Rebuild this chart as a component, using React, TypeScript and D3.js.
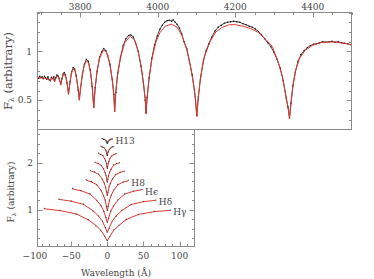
import * as d3 from 'd3';

// top panel: full spectrum, wavelength (A) / flux
const topTicksX = [3800, 4000, 4200, 4400];
const topTicksY = [0.5, 1];

const modelSpec: [number, number][] = [
  [3690, 0.73], [3700, 0.73], [3710, 0.725], [3718, 0.72], [3722, 0.7], [3726, 0.72],
  [3730, 0.73], [3734, 0.69], [3740, 0.75], [3745, 0.74], [3750, 0.655], [3753, 0.72],
  [3758, 0.775], [3763, 0.74], [3767, 0.66], [3770, 0.56], [3773, 0.66], [3777, 0.77],
  [3782, 0.825], [3787, 0.8], [3792, 0.7], [3796, 0.58], [3798, 0.5], [3800, 0.59],
  [3805, 0.74], [3810, 0.85], [3816, 0.905], [3822, 0.88], [3828, 0.76], [3832, 0.6],
  [3835, 0.42], [3838, 0.6], [3843, 0.78], [3850, 0.93], [3860, 1.015], [3868, 0.995],
  [3876, 0.88], [3883, 0.7], [3887, 0.55], [3889, 0.38], [3891, 0.55], [3896, 0.75],
  [3905, 0.95], [3915, 1.09], [3929, 1.155], [3940, 1.12], [3950, 1.0], [3958, 0.83],
  [3964, 0.66], [3968, 0.5], [3970, 0.36], [3972, 0.5], [3977, 0.7], [3985, 0.92],
  [3995, 1.09], [4005, 1.19], [4020, 1.26], [4035, 1.28], [4050, 1.25], [4063, 1.16],
  [4075, 1.02], [4085, 0.84], [4093, 0.65], [4098, 0.5], [4101, 0.335], [4104, 0.5],
  [4110, 0.72], [4120, 0.94], [4135, 1.1], [4150, 1.2], [4165, 1.245], [4185, 1.275],
  [4200, 1.275], [4220, 1.26], [4240, 1.235], [4260, 1.195], [4280, 1.12], [4296, 1.05],
  [4310, 0.9], [4322, 0.74], [4332, 0.51], [4337, 0.42], [4340, 0.31], [4343, 0.44],
  [4349, 0.66], [4357, 0.82], [4366, 0.93], [4380, 1.01], [4400, 1.065], [4420, 1.09],
  [4440, 1.097], [4460, 1.096], [4480, 1.085], [4500, 1.07],
];

const obsSpec: [number, number][] = [
  [3690, 0.74], [3693, 0.725], [3696, 0.745], [3699, 0.73], [3702, 0.74], [3705, 0.72],
  [3708, 0.745], [3711, 0.73], [3714, 0.715], [3717, 0.74], [3720, 0.71], [3723, 0.7],
  [3726, 0.735], [3729, 0.72], [3732, 0.74], [3734, 0.7], [3737, 0.73], [3740, 0.76],
  [3743, 0.75], [3746, 0.72], [3750, 0.67], [3753, 0.72], [3756, 0.77], [3759, 0.785],
  [3762, 0.76], [3766, 0.68], [3770, 0.57], [3774, 0.69], [3778, 0.79], [3782, 0.835],
  [3786, 0.82], [3790, 0.75], [3795, 0.6], [3798, 0.51], [3801, 0.62], [3806, 0.77],
  [3811, 0.87], [3816, 0.92], [3821, 0.9], [3826, 0.81], [3831, 0.64], [3835, 0.43],
  [3839, 0.63], [3844, 0.8], [3850, 0.94], [3856, 1.0], [3861, 1.03], [3866, 1.01],
  [3871, 0.96], [3877, 0.87], [3883, 0.71], [3887, 0.56], [3889, 0.39], [3892, 0.58],
  [3897, 0.78], [3904, 0.94], [3911, 1.06], [3918, 1.13], [3925, 1.165], [3931, 1.17],
  [3937, 1.15], [3943, 1.09], [3950, 1.0], [3957, 0.85], [3963, 0.68], [3968, 0.5],
  [3970, 0.37], [3973, 0.53], [3978, 0.73], [3985, 0.93], [3992, 1.07], [3999, 1.16],
  [4006, 1.23], [4012, 1.27], [4018, 1.3], [4024, 1.315], [4030, 1.32], [4036, 1.31],
  [4040, 1.325], [4045, 1.3], [4050, 1.28], [4056, 1.24], [4062, 1.18], [4068, 1.1],
  [4075, 1.03], [4082, 0.9], [4089, 0.76], [4095, 0.6], [4101, 0.34], [4105, 0.54],
  [4111, 0.74], [4118, 0.91], [4125, 1.01], [4132, 1.08], [4140, 1.15], [4148, 1.21],
  [4156, 1.25], [4164, 1.27], [4172, 1.29], [4180, 1.3], [4188, 1.305], [4196, 1.31],
  [4204, 1.305], [4212, 1.3], [4220, 1.285], [4228, 1.275], [4236, 1.26], [4244, 1.25],
  [4252, 1.23], [4260, 1.205], [4268, 1.17], [4276, 1.13], [4284, 1.09], [4292, 1.05],
  [4300, 0.99], [4308, 0.92], [4316, 0.83], [4324, 0.7], [4332, 0.52], [4336, 0.43],
  [4340, 0.32], [4344, 0.47], [4349, 0.65], [4355, 0.79], [4362, 0.9], [4370, 0.97],
  [4378, 1.01], [4386, 1.04], [4394, 1.06], [4402, 1.075], [4410, 1.08], [4418, 1.09],
  [4426, 1.1], [4434, 1.095], [4442, 1.1], [4450, 1.105], [4458, 1.095], [4466, 1.1],
  [4474, 1.09], [4482, 1.085], [4490, 1.08], [4498, 1.07],
];

// bottom panel: individual line profiles, offset
const botTicksX = [-100, -50, 0, 50, 100];
const botTicksY = [1, 2];
const lineNames = ['Hγ', 'Hδ', 'Hϵ', 'H8', 'H9', 'H10', 'H11', 'H12', 'H13'];
const lineLabelled = [true, true, true, true, false, false, false, false, true];

const profileWave = [
  [-87, -65, -43, -26, -16, -9, -3.5, 0, 3.5, 9, 16, 26, 43, 65, 87],
  [-67, -50, -33, -20, -12, -6.7, -2.7, 0, 2.7, 6.7, 12, 20, 33, 50, 67],
  [-48, -36, -24, -14.4, -8.6, -4.8, -1.9, 0, 1.9, 4.8, 8.6, 14.4, 24, 36, 48],
  [-29, -22, -14.5, -8.7, -5.2, -2.9, -1.2, 0, 1.2, 2.9, 5.2, 8.7, 14.5, 22, 29],
  [-23.5, -17.6, -11.8, -7, -4.2, -2.4, -0.9, 0, 0.9, 2.4, 4.2, 7, 11.8, 17.6, 23.5],
  [-17, -12.8, -8.5, -5.1, -3.1, -1.7, -0.7, 0, 0.7, 1.7, 3.1, 5.1, 8.5, 12.8, 17],
  [-12.3, -9.2, -6.2, -3.7, -2.2, -1.2, -0.5, 0, 0.5, 1.2, 2.2, 3.7, 6.2, 9.2, 12.3],
  [-9, -6.8, -4.5, -2.7, -1.6, -0.9, -0.4, 0, 0.4, 0.9, 1.6, 2.7, 4.5, 6.8, 9],
  [-7, -5.2, -3.5, -2.1, -1.3, -0.7, -0.3, 0, 0.3, 0.7, 1.3, 2.1, 3.5, 5.2, 7],
];

const profileModel = [
  [1.02, 0.98, 0.912, 0.782, 0.67, 0.565, 0.435, 0.34, 0.437, 0.57, 0.665, 0.79, 0.9, 0.96, 0.985],
  [1.22, 1.18, 1.113, 0.982, 0.865, 0.755, 0.617, 0.52, 0.617, 0.755, 0.865, 0.982, 1.11, 1.17, 1.2],
  [1.44, 1.4, 1.332, 1.199, 1.08, 0.968, 0.828, 0.73, 0.828, 0.968, 1.08, 1.199, 1.33, 1.39, 1.425],
  [1.625, 1.59, 1.53, 1.409, 1.3, 1.198, 1.07, 0.98, 1.07, 1.198, 1.3, 1.409, 1.53, 1.585, 1.615],
  [1.825, 1.795, 1.747, 1.648, 1.56, 1.477, 1.373, 1.3, 1.373, 1.477, 1.56, 1.648, 1.745, 1.79, 1.815],
  [2.0, 1.979, 1.941, 1.861, 1.79, 1.723, 1.639, 1.58, 1.639, 1.723, 1.79, 1.861, 1.94, 1.975, 1.995],
  [2.19, 2.174, 2.145, 2.084, 2.03, 1.979, 1.915, 1.87, 1.915, 1.979, 2.03, 2.084, 2.145, 2.17, 2.185],
  [2.34, 2.33, 2.312, 2.274, 2.24, 2.208, 2.168, 2.14, 2.168, 2.208, 2.24, 2.274, 2.31, 2.33, 2.335],
  [2.5, 2.495, 2.486, 2.467, 2.45, 2.434, 2.414, 2.4, 2.414, 2.434, 2.45, 2.467, 2.485, 2.493, 2.495],
];

const profileObs = [
  [1.03, 0.985, 0.905, 0.79, 0.66, 0.57, 0.44, 0.35, 0.43, 0.575, 0.67, 0.8, 0.895, 0.965, 0.99],
  [1.225, 1.185, 1.12, 0.975, 0.87, 0.75, 0.62, 0.53, 0.61, 0.76, 0.86, 0.99, 1.115, 1.175, 1.205],
  [1.45, 1.41, 1.34, 1.19, 1.085, 0.96, 0.835, 0.74, 0.82, 0.975, 1.075, 1.205, 1.335, 1.4, 1.43],
  [1.635, 1.6, 1.525, 1.415, 1.295, 1.205, 1.065, 0.99, 1.075, 1.19, 1.305, 1.415, 1.535, 1.59, 1.625],
  [1.83, 1.8, 1.755, 1.64, 1.565, 1.47, 1.38, 1.31, 1.365, 1.485, 1.555, 1.655, 1.75, 1.795, 1.82],
  [2.01, 1.985, 1.935, 1.87, 1.785, 1.73, 1.635, 1.59, 1.645, 1.715, 1.795, 1.855, 1.95, 1.98, 2.0],
  [2.2, 2.17, 2.15, 2.08, 2.035, 1.975, 1.92, 1.88, 1.91, 1.985, 2.025, 2.09, 2.14, 2.175, 2.19],
  [2.35, 2.325, 2.318, 2.27, 2.245, 2.2, 2.175, 2.15, 2.16, 2.215, 2.235, 2.28, 2.305, 2.335, 2.34],
  [2.51, 2.49, 2.49, 2.46, 2.455, 2.43, 2.42, 2.41, 2.41, 2.44, 2.445, 2.47, 2.48, 2.5, 2.5],
];

const FRAME = '#8a8a8a';
const TEXT = '#454545';
const RED = '#e2382f';
const FONT = 'DejaVu Serif, serif';

export default function App() {
  const xTop = d3.scaleLinear().domain([3690, 4500]).range([37.5, 351.5]);
  const yTop = d3.scaleLinear().domain([0.2, 1.4]).range([129.5, 12.5]);
  const xBot = d3.scaleLinear().domain([-96.5, 120.5]).range([37.5, 194.5]);
  const yBot = d3.scaleLinear().domain([0.22, 2.7]).range([246.5, 129.5]);

  const topLine = d3.line<[number, number]>().x(d => xTop(d[0])).y(d => yTop(d[1]));
  const botLine = d3.line<[number, number]>().x(d => xBot(d[0])).y(d => yBot(d[1]));

  const topMinorX = d3.range(3700, 4501, 50);
  const topMinorY = d3.range(3, 15).map(v => v / 10);
  const botMinorX = d3.range(-90, 121, 10);
  const botMinorY = d3.range(2, 14).map(v => v / 5);

  const [tx0, tx1] = xTop.range();
  const [ty0, ty1] = yTop.range();
  const [bx0, bx1] = xBot.range();
  const [by0, by1] = yBot.range();

  return (
    <svg width={374} height={279} style={{ position: 'absolute', left: 0, top: 0, background: '#fff' }}>
      {/* ---- top panel ---- */}
      <g stroke={FRAME} strokeWidth={1}>
        {topMinorX.map(v => {
          const major = topTicksX.includes(v);
          return <line key={'tx' + v} x1={Math.round(xTop(v)) + 0.5} x2={Math.round(xTop(v)) + 0.5} y1={ty1} y2={ty1 + (major ? 5 : 2.5)} />;
        })}
        {topMinorY.map(v => {
          const major = topTicksY.some(t => Math.abs(t - v) < 1e-6);
          const y = Math.round(yTop(v)) + 0.5;
          return (
            <g key={'ty' + v}>
              <line x1={tx0} x2={tx0 + (major ? 5 : 2.5)} y1={y} y2={y} />
              <line x1={tx1} x2={tx1 - (major ? 5 : 2.5)} y1={y} y2={y} />
            </g>
          );
        })}
      </g>
      <path d={topLine(obsSpec) ?? ''} fill="none" stroke="#111" strokeWidth={0.8} />
      {obsSpec.map((d, i) => (
        <circle key={'o' + i} cx={xTop(d[0])} cy={yTop(d[1])} r={0.75} fill="#111" />
      ))}
      <path d={topLine(modelSpec) ?? ''} fill="none" stroke={RED} strokeWidth={1} />
      <rect x={tx0} y={ty1} width={tx1 - tx0} height={ty0 - ty1} fill="none" stroke={FRAME} strokeWidth={1} />
      <g fontFamily={FONT} fontSize={9} fill={TEXT}>
        {topTicksX.map(v => (
          <text key={'tl' + v} x={xTop(v)} y={10} textAnchor="middle">{v}</text>
        ))}
        {topTicksY.map(v => (
          <text key={'tyl' + v} x={32} y={yTop(v) + 3.2} textAnchor="end">{v}</text>
        ))}
      </g>
      <text transform={`translate(11.5,${(ty0 + ty1) / 2}) rotate(-90)`} textAnchor="middle"
        fontFamily={FONT} fontSize={11.5} fill={TEXT}>
        F<tspan fontSize={7.5} dy={2.5}>λ</tspan><tspan dy={-2.5}> (arbitrary)</tspan>
      </text>

      {/* ---- bottom panel ---- */}
      <g stroke={FRAME} strokeWidth={1}>
        {botMinorX.map(v => {
          const major = botTicksX.includes(v);
          const x = Math.round(xBot(v)) + 0.5;
          return <line key={'bx' + v} x1={x} x2={x} y1={by0} y2={by0 - (major ? 5 : 2.5)} />;
        })}
        {botMinorY.map(v => {
          const major = botTicksY.some(t => Math.abs(t - v) < 1e-6);
          const y = Math.round(yBot(v)) + 0.5;
          return (
            <g key={'by' + v}>
              <line x1={bx0} x2={bx0 + (major ? 5 : 2.5)} y1={y} y2={y} />
              <line x1={bx1} x2={bx1 - (major ? 5 : 2.5)} y1={y} y2={y} />
            </g>
          );
        })}
      </g>
      {profileWave.map((wv, i) => {
        const mod = wv.map((w, j) => [w, profileModel[i][j]] as [number, number]);
        return <path key={'pm' + i} d={botLine(mod) ?? ''} fill="none" stroke={RED} strokeWidth={1} />;
      })}
      {profileWave.map((wv, i) => (
        <g key={'po' + i} fill="#333">
          {wv.map((w, j) => (
            <circle key={j} cx={xBot(w)} cy={yBot(profileObs[i][j])} r={0.6} />
          ))}
        </g>
      ))}
      <rect x={bx0} y={by1} width={bx1 - bx0} height={by0 - by1} fill="none" stroke={FRAME} strokeWidth={1} />
      <g fontFamily={FONT} fontSize={9} fill={TEXT}>
        {profileWave.map((wv, i) => lineLabelled[i] ? (
          <text key={'ll' + i} x={xBot(wv[wv.length - 1]) + 3} y={yBot(profileModel[i][wv.length - 1]) + 5}>
            {lineNames[i]}
          </text>
        ) : null)}
        {botTicksX.map(v => (
          <text key={'bl' + v} x={xBot(v)} y={258.5} textAnchor="middle">{v < 0 ? '−' + Math.abs(v) : v}</text>
        ))}
        {botTicksY.map(v => (
          <text key={'byl' + v} x={33} y={yBot(v) + 3.2} textAnchor="end">{v}</text>
        ))}
        <text x={(bx0 + bx1) / 2} y={276} textAnchor="middle">Wavelength (Å)</text>
      </g>
      <text transform={`translate(14,${(by0 + by1) / 2 + 4}) rotate(-90)`} textAnchor="middle"
        fontFamily={FONT} fontSize={9} fill={TEXT}>
        F<tspan fontSize={6} dy={2}>λ</tspan><tspan dy={-2}> (arbitrary)</tspan>
      </text>
    </svg>
  );
}
